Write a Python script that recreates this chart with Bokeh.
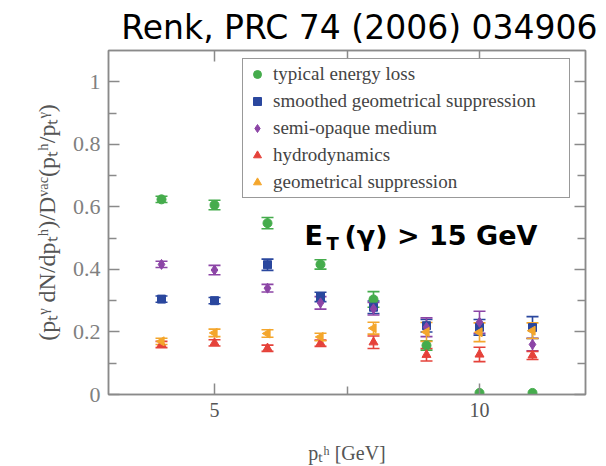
import numpy as np
from bokeh.plotting import figure
from bokeh.models import (ColumnDataSource, Whisker, TeeHead, FixedTicker, LinearAxis,
                          Range1d, Label, Legend, LegendItem)
from bokeh.embed import file_html
from bokeh.resources import INLINE

# ---- data ----
pt = [4, 5, 6, 7, 8, 9, 10, 11]
typical = [0.624, 0.606, 0.548, 0.416, 0.304, 0.157, 0.005, 0.005]
typical_err = [0.010, 0.015, 0.018, 0.015, 0.025, 0.015, 0.0, 0.0]
smoothed = [0.305, 0.300, 0.415, 0.312, 0.279, 0.220, 0.215, 0.214]
smoothed_err = [0.010, 0.010, 0.018, 0.015, 0.020, 0.020, 0.025, 0.035]
semi = [0.416, 0.398, 0.340, 0.293, 0.274, 0.215, 0.231, 0.160]
semi_err = [0.010, 0.015, 0.012, 0.020, 0.020, 0.030, 0.035, 0.020]
hydro = [0.160, 0.165, 0.148, 0.164, 0.167, 0.127, 0.128, 0.125]
hydro_err = [0.010, 0.010, 0.010, 0.010, 0.020, 0.020, 0.023, 0.013]
geom = [0.170, 0.197, 0.195, 0.184, 0.212, 0.200, 0.199, 0.204]
geom_err = [0.010, 0.012, 0.012, 0.012, 0.019, 0.030, 0.030, 0.025]

labels = ["typical energy loss", "smoothed geometrical suppression",
          "semi-opaque medium", "hydrodynamics", "geometrical suppression"]
colors = ["#45ac4c", "#2a479e", "#8c45a6", "#e5423a", "#f4a62c"]
markers = ["circle", "square", "diamond", "triangle", "triangle"]
angles_deg = [0, 0, 0, 0, 90]
sizes = [9, 8, 10, 9, 9]
series = [(typical, typical_err), (smoothed, smoothed_err), (semi, semi_err),
          (hydro, hydro_err), (geom, geom_err)]

y_ticks = [0, 0.2, 0.4, 0.6, 0.8, 1.0]
y_tick_labels = ["0", "0.2", "0.4", "0.6", "0.8", "1"]
y_minor = [0.1, 0.3, 0.5, 0.7, 0.9]
x_ticks = [5, 10]
x_tick_labels = ["5", "10"]
x_minor = [7.5]

AX = "#8a8a8a"

p = figure(width=606, height=466, output_backend="svg", toolbar_location=None,
           x_range=Range1d(3, 12), y_range=Range1d(0, 1.1),
           min_border_left=108, min_border_right=21, min_border_top=50,
           min_border_bottom=72)
p.xgrid.visible = False
p.ygrid.visible = False
p.outline_line_color = AX
p.outline_line_width = 1.5
p.background_fill_color = "white"
p.border_fill_color = "white"

p.title.text = "Renk, PRC 74 (2006) 034906"
p.title.align = "right"
p.title.text_font = "DejaVu Sans"
p.title.text_font_style = "normal"
p.title.text_font_size = "33px"
p.title.text_color = "#000000"
p.title.standoff = 8
p.title.offset = -12

def style_axis(ax, ticks, minor, show_labels, tick_labels=None):
    ax.ticker = FixedTicker(ticks=ticks, minor_ticks=minor)
    ax.axis_line_color = AX
    ax.axis_line_width = 1.5
    ax.major_tick_line_color = AX
    ax.minor_tick_line_color = AX
    ax.major_tick_line_width = 1.5
    ax.minor_tick_line_width = 1.5
    ax.major_tick_in = 11
    ax.major_tick_out = 0
    ax.minor_tick_in = 8
    ax.minor_tick_out = 0
    if show_labels:
        ax.major_label_overrides = {t: l for t, l in zip(ticks, tick_labels)}
        ax.major_label_text_font = "Liberation Serif"
        ax.major_label_text_color = "#808080"
        ax.major_label_standoff = 8
    else:
        ax.major_label_text_font_size = "0px"
        ax.major_label_text_alpha = 0
        ax.major_label_standoff = 0

xa = p.xaxis[0]
style_axis(xa, x_ticks, x_minor, True, x_tick_labels)
xa.major_label_text_font_size = "20px"
xa.major_label_text_color = "#555555"
xa.axis_label = "pₜʰ [GeV]"
xa.axis_label_text_font = "Liberation Serif"
xa.axis_label_text_font_style = "normal"
xa.axis_label_text_font_size = "20px"
xa.axis_label_text_color = "#555555"
xa.axis_label_standoff = 22

ya = p.yaxis[0]
style_axis(ya, y_ticks, y_minor, True, y_tick_labels)
ya.major_label_text_font_size = "22px"
ya.axis_label = "(pₜᵞ dN/dpₜʰ)/Dᵛᵃᶜ(pₜʰ/pₜᵞ)"
ya.axis_label_text_font = "Liberation Serif"
ya.axis_label_text_font_style = "normal"
ya.axis_label_text_font_size = "24px"
ya.axis_label_text_color = "#555555"
ya.axis_label_standoff = 10

top = LinearAxis()
style_axis(top, x_ticks, x_minor, False)
p.add_layout(top, "above")
right = LinearAxis()
style_axis(right, y_ticks, y_minor, False)
p.add_layout(right, "right")

items = []
for (vals, errs), lab, c, m, a, s in zip(series, labels, colors, markers, angles_deg, sizes):
    keep = [i for i, e in enumerate(errs) if e > 0]
    wsrc = ColumnDataSource(dict(
        x=[pt[i] for i in keep],
        upper=[vals[i] + errs[i] for i in keep],
        lower=[vals[i] - errs[i] for i in keep]))
    w = Whisker(base="x", upper="upper", lower="lower", source=wsrc,
                line_color=c, line_width=1.6,
                upper_head=TeeHead(size=12, line_color=c, line_width=1.6),
                lower_head=TeeHead(size=12, line_color=c, line_width=1.6))
    p.add_layout(w)
    src = ColumnDataSource(dict(x=pt, y=vals, ang=[a] * len(pt)))
    r = p.scatter("x", "y", source=src, marker=m, size=s, angle="ang",
                  angle_units="deg", fill_color=c, line_color=c)
    items.append(LegendItem(label=lab, renderers=[r]))

legend = Legend(items=items, location=(134, 196))
legend.label_text_font = "Liberation Serif"
legend.label_text_font_size = "19px"
legend.label_text_color = "#444444"
legend.label_height = 20
legend.label_width = 292
legend.glyph_height = 20
legend.glyph_width = 20
legend.spacing = 5
legend.padding = 4
legend.margin = 0
legend.label_standoff = 6
legend.border_line_color = "#333333"
legend.border_line_width = 1.5
legend.background_fill_alpha = 1
p.add_layout(legend)

e1 = Label(x=196, y=159, x_units="screen", y_units="screen", text="E",
           text_font="DejaVu Sans", text_font_style="bold", text_font_size="27px",
           text_baseline="alphabetic", text_color="#000000")
e2 = Label(x=218, y=151, x_units="screen", y_units="screen", text="T",
           text_font="DejaVu Sans", text_font_style="bold", text_font_size="18px",
           text_baseline="alphabetic", text_color="#000000")
e3 = Label(x=236, y=159, x_units="screen", y_units="screen", text="(γ) > 15 GeV",
           text_font="DejaVu Sans", text_font_style="bold", text_font_size="27px",
           text_baseline="alphabetic", text_color="#000000")
for l in (e1, e2, e3):
    p.add_layout(l)

open("out.html", "w").write(file_html(p, INLINE))
